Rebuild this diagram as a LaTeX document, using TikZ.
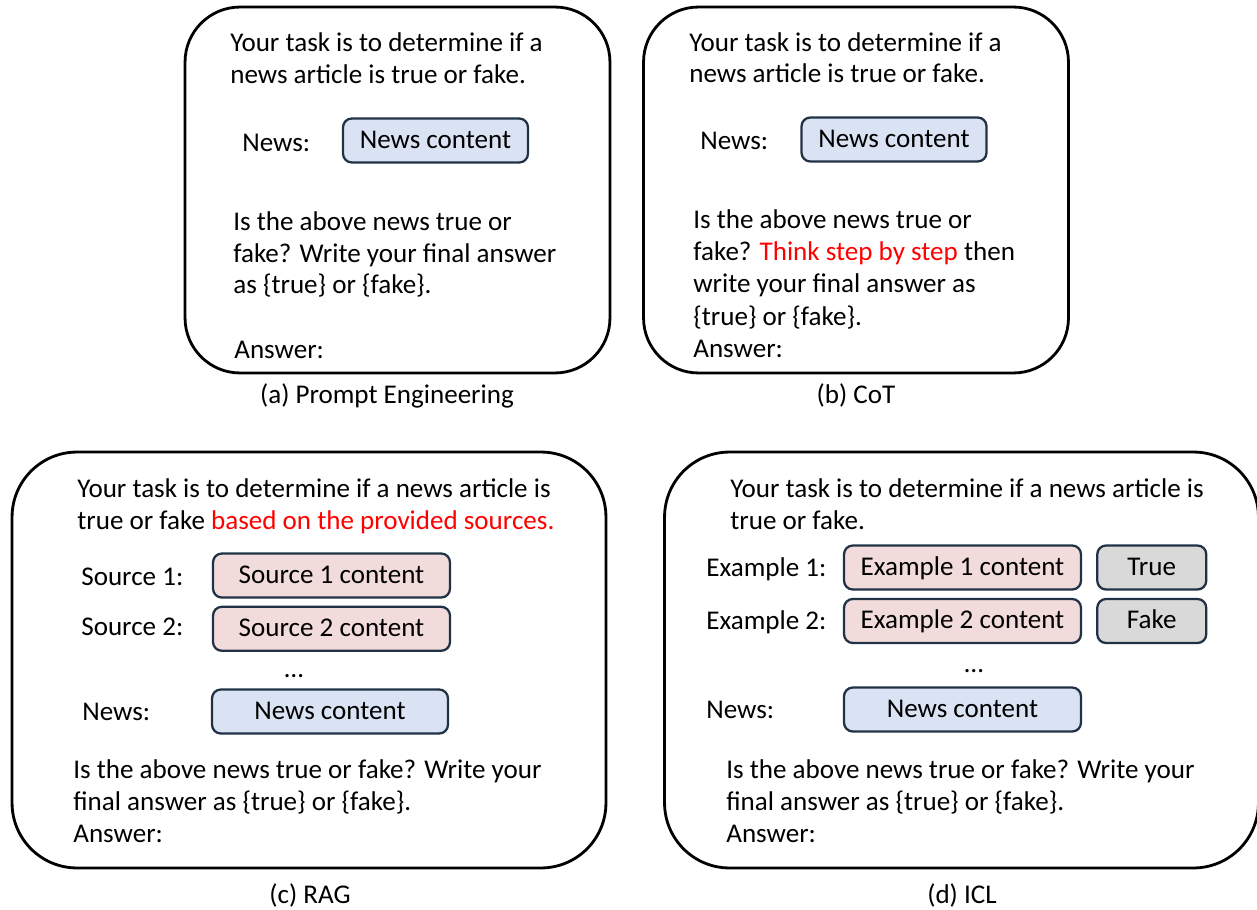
\documentclass[tikz,border=0pt]{standalone}
\usepackage{fontspec}
\setmainfont{Carlito}
\usetikzlibrary{positioning}
\definecolor{newsfill}{HTML}{DAE3F3}
\definecolor{srcfill}{HTML}{F2DCDB}
\definecolor{verdictfill}{HTML}{D9D9D9}
\definecolor{boxline}{HTML}{223246}
\definecolor{hilite}{HTML}{FF0000}
\tikzstyle{panel} = [draw=black, line width=1.6pt, rounded corners=1.1cm, minimum width=8.5cm, minimum height=7.32cm]
\tikzstyle{bigpanel} = [panel, rounded corners=1.3cm, minimum width=11.88cm, minimum height=8.32cm]
\tikzstyle{txt} = [anchor=base west, inner sep=0pt]
\tikzstyle{subcap} = [anchor=base, inner sep=0pt]
\tikzstyle{content} = [draw=boxline, line width=1.3pt, rounded corners=5pt, minimum height=0.88cm, inner sep=0pt, text height=11pt, text depth=2pt, text centered]
\tikzstyle{news} = [content, fill=newsfill, minimum width=3.7cm]
\tikzstyle{source} = [content, fill=srcfill, minimum width=4.74cm]
\tikzstyle{verdict} = [content, fill=verdictfill, minimum width=2.18cm]

\begin{document}
\begin{tikzpicture}[x=0.02cm, y=-0.02cm, every node/.style={font=\fontsize{15.4}{18}\selectfont}]
    \useasboundingbox (0,0) rectangle (1257,909);

    % (a) Prompt Engineering
    \node (pa) [panel] at (397.5,190) {};
    \node (a1) [txt] at (230,52) {Your task is to determine if a};
    \node (a2) [txt] at (230,84) {news article is true or fake.};
    \node (aNewsLbl) [txt] at (242,152) {News:};
    \node (aNews) [news] at (435.5,140.5) {News content};
    \node (a3) [txt] at (233,230) {Is the above news true or};
    \node (a4) [txt] at (233,262) {fake? Write your final answer};
    \node (a5) [txt] at (233,293) {as \{true\} or \{fake\}.};
    \node (a6) [txt] at (234,358) {Answer:};
    \node (capA) [subcap] at (387,403) {(a) Prompt Engineering};

    % (b) CoT
    \node (pb) [panel] at (856,190) {};
    \node (b1) [txt] at (689,52) {Your task is to determine if a};
    \node (b2) [txt] at (689,83) {news article is true or fake.};
    \node (bNewsLbl) [txt] at (700,150) {News:};
    \node (bNews) [news] at (894,139.5) {News content};
    \node (b3) [txt] at (693,228) {Is the above news true or};
    \node (b4) [txt] at (693,260) {fake? \textcolor{hilite}{Think step by step} then};
    \node (b5) [txt] at (693,292) {write your final answer as};
    \node (b6) [txt] at (693,325) {\{true\} or \{fake\}.};
    \node (b7) [txt] at (693,357) {Answer:};
    \node (capB) [subcap] at (856,403) {(b) CoT};

    % (c) RAG
    \node (pc) [bigpanel] at (309,660) {};
    \node (c1) [txt] at (77,497) {Your task is to determine if a news article is};
    \node (c2) [txt] at (77,529) {true or fake \textcolor{hilite}{based on the provided sources.}};
    \node (cSrc1Lbl) [txt] at (81,585) {Source 1:};
    \node (cSrc1) [source] at (331.5,575.5) {Source 1 content};
    \node (cSrc2) [source, below=0.14cm of cSrc1] {Source 2 content};
    \node (cSrc2Lbl) [txt] at (81,635) {Source 2:};
    \node (cDots) [subcap] at (294,677) {…};
    \node (cNewsLbl) [txt] at (82,720) {News:};
    \node (cNews) [news, minimum width=4.72cm] at (330,711.5) {News content};
    \node (c3) [txt] at (73,778) {Is the above news true or fake? Write your};
    \node (c4) [txt] at (73,810) {final answer as \{true\} or \{fake\}.};
    \node (c5) [txt] at (73,842) {Answer:};
    \node (capC) [subcap] at (310,903) {(c) RAG};

    % (d) ICL
    \node (pd) [bigpanel] at (961.5,660) {};
    \node (d1) [txt] at (730,497) {Your task is to determine if a news article is};
    \node (d2) [txt] at (730,529) {true or fake.};
    \node (dEx1Lbl) [txt] at (706,576) {Example 1:};
    \node (dEx1) [source] at (962.5,567.5) {Example 1 content};
    \node (dTrue) [verdict, right=0.28cm of dEx1] {True};
    \node (dEx2Lbl) [txt] at (706,629) {Example 2:};
    \node (dEx2) [source] at (962.5,621) {Example 2 content};
    \node (dFake) [verdict, right=0.28cm of dEx2] {Fake};
    \node (dDots) [subcap] at (974,672) {…};
    \node (dNewsLbl) [txt] at (706,718) {News:};
    \node (dNews) [news, minimum width=4.74cm] at (962.5,709.5) {News content};
    \node (d3) [txt] at (726,778) {Is the above news true or fake? Write your};
    \node (d4) [txt] at (726,810) {final answer as \{true\} or \{fake\}.};
    \node (d5) [txt] at (726,842) {Answer:};
    \node (capD) [subcap] at (962,903) {(d) ICL};

\end{tikzpicture}
\end{document}
